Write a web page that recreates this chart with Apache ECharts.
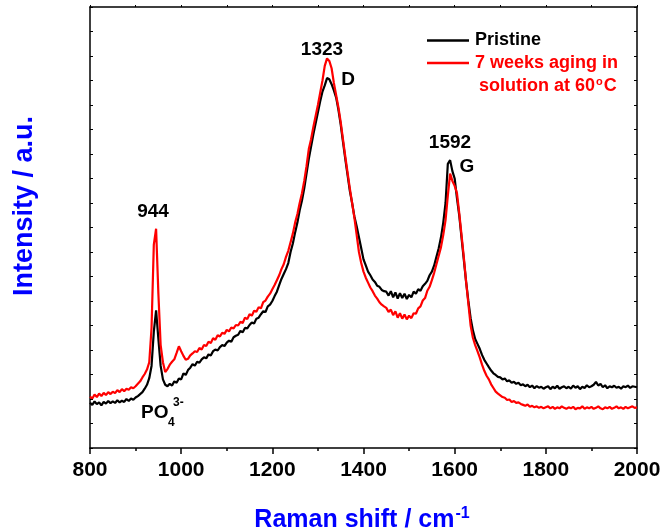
<!DOCTYPE html>
<html><head><meta charset="utf-8">
<script src="https://cdn.jsdelivr.net/npm/echarts@6/dist/echarts.min.js"></script>
<style>html,body{margin:0;padding:0;background:#fff}#c{width:664px;height:531px}</style>
</head><body><div id="c"></div>
<script>
const ramanShift = [
800,805,810,815,820,825,830,835,840,845,850,855,860,865,870,875,880,885,890,895,
900,905,910,915,920,925,930,935,940,945,950,955,960,965,970,975,980,985,990,995,
1000,1005,1010,1015,1020,1025,1030,1035,1040,1045,1050,1055,1060,1065,1070,1075,1080,1085,1090,1095,
1100,1105,1110,1115,1120,1125,1130,1135,1140,1145,1150,1155,1160,1165,1170,1175,1180,1185,1190,1195,
1200,1205,1210,1215,1220,1225,1230,1235,1240,1245,1250,1255,1260,1265,1270,1275,1280,1285,1290,1295,
1300,1305,1310,1315,1320,1325,1330,1335,1340,1345,1350,1355,1360,1365,1370,1375,1380,1385,1390,1395,
1400,1405,1410,1415,1420,1425,1430,1435,1440,1445,1450,1455,1460,1465,1470,1475,1480,1485,1490,1495,
1500,1505,1510,1515,1520,1525,1530,1535,1540,1545,1550,1555,1560,1565,1570,1575,1580,1585,1590,1595,
1600,1605,1610,1615,1620,1625,1630,1635,1640,1645,1650,1655,1660,1665,1670,1675,1680,1685,1690,1695,
1700,1705,1710,1715,1720,1725,1730,1735,1740,1745,1750,1755,1760,1765,1770,1775,1780,1785,1790,1795,
1800,1805,1810,1815,1820,1825,1830,1835,1840,1845,1850,1855,1860,1865,1870,1875,1880,1885,1890,1895,
1900,1905,1910,1915,1920,1925,1930,1935,1940,1945,1950,1955,1960,1965,1970,1975,1980,1985,1990,1995,
2000];

const pristine = [
1.85,1.76,1.90,1.79,1.86,1.74,1.88,1.81,1.92,1.83,
1.90,1.84,1.95,1.86,1.93,1.88,2.00,1.92,2.02,1.97,
2.06,2.12,2.20,2.28,2.42,2.58,2.85,3.35,4.75,5.62,
4.45,3.35,2.80,2.58,2.52,2.62,2.55,2.72,2.66,2.84,
2.80,3.05,2.98,3.18,3.28,3.42,3.36,3.52,3.48,3.62,
3.70,3.66,3.82,3.78,3.95,4.02,3.98,4.12,4.20,4.16,
4.30,4.38,4.34,4.52,4.58,4.62,4.78,4.72,4.90,4.88,
5.02,5.12,5.08,5.28,5.32,5.46,5.58,5.55,5.78,5.85,
6.00,6.20,6.38,6.65,6.90,7.10,7.30,7.55,8.00,8.35,
8.80,9.20,9.70,10.10,10.60,11.20,11.80,12.30,12.80,13.25,
13.70,14.15,14.55,14.80,15.10,15.05,14.85,14.60,14.30,13.80,
13.20,12.50,11.80,11.15,10.50,10.00,9.45,9.05,8.60,8.15,
7.70,7.45,7.20,7.05,6.88,6.78,6.62,6.58,6.45,6.40,
6.38,6.22,6.40,6.15,6.35,6.10,6.32,6.12,6.30,6.08,
6.25,6.15,6.38,6.30,6.48,6.42,6.60,6.70,6.82,7.05,
7.20,7.45,7.80,8.15,8.60,9.20,10.00,11.60,11.75,11.30,
11.00,10.20,9.50,8.60,7.70,6.80,6.00,5.30,4.80,4.45,
4.25,4.05,3.80,3.60,3.45,3.30,3.16,3.05,2.98,2.90,
2.88,2.80,2.84,2.72,2.76,2.66,2.70,2.62,2.66,2.56,
2.60,2.52,2.58,2.48,2.55,2.44,2.53,2.46,2.50,2.42,
2.48,2.52,2.40,2.50,2.44,2.54,2.42,2.48,2.52,2.44,
2.50,2.42,2.55,2.46,2.52,2.40,2.50,2.45,2.56,2.48,
2.52,2.58,2.70,2.55,2.62,2.48,2.56,2.44,2.52,2.48,
2.54,2.46,2.50,2.42,2.52,2.48,2.55,2.45,2.52,2.50,
2.48];

const aged = [
2.10,2.02,2.18,2.08,2.22,2.12,2.25,2.16,2.28,2.20,
2.30,2.24,2.36,2.28,2.40,2.32,2.42,2.38,2.48,2.44,
2.52,2.62,2.72,2.88,3.02,3.20,3.50,4.90,8.30,8.95,
6.30,4.20,3.50,3.10,3.22,3.40,3.52,3.62,3.88,4.15,
3.95,3.76,3.60,3.64,3.78,3.86,3.95,3.92,4.08,4.02,
4.20,4.16,4.34,4.28,4.48,4.42,4.60,4.55,4.70,4.66,
4.82,4.76,4.92,4.88,5.02,5.00,5.15,5.10,5.32,5.26,
5.46,5.40,5.60,5.56,5.75,5.70,5.95,6.02,6.18,6.30,
6.48,6.65,6.85,7.05,7.30,7.50,7.80,8.05,8.40,8.75,
9.20,9.55,10.00,10.40,10.90,11.50,12.20,12.60,13.10,13.55,
14.00,14.50,15.00,15.60,15.90,15.80,15.50,14.90,14.40,13.90,
13.30,12.60,11.90,11.25,10.60,10.00,9.40,8.70,8.00,7.55,
7.20,6.95,6.75,6.55,6.40,6.22,6.10,5.95,5.85,5.78,
5.72,5.55,5.65,5.42,5.58,5.32,5.50,5.28,5.45,5.25,
5.40,5.30,5.50,5.48,5.70,5.78,6.02,6.12,6.42,6.58,
6.85,7.15,7.50,7.85,8.20,8.70,9.30,10.30,11.20,10.90,
10.70,10.40,9.60,8.70,7.80,6.80,5.90,5.00,4.50,4.20,
3.95,3.70,3.40,3.15,2.95,2.80,2.60,2.45,2.30,2.22,
2.15,2.08,2.05,1.96,1.98,1.88,1.92,1.84,1.86,1.80,
1.76,1.72,1.78,1.68,1.72,1.66,1.70,1.64,1.68,1.62,
1.66,1.70,1.62,1.68,1.60,1.66,1.62,1.70,1.64,1.60,
1.66,1.62,1.68,1.58,1.64,1.62,1.70,1.60,1.66,1.62,
1.68,1.60,1.64,1.70,1.62,1.58,1.66,1.62,1.68,1.60,
1.64,1.70,1.62,1.66,1.60,1.68,1.62,1.66,1.70,1.64,
1.66];

const xTickLabels = ['800','1000','1200','1400','1600','1800','2000'];
const seriesNames = ['Pristine', '7 weeks aging in'];

const FONT = '"Liberation Sans", Arial, sans-serif';
const chart = echarts.init(document.getElementById('c'), null, {renderer:'canvas'});
const axisBase = {
  axisLine:{show:true, onZero:false, lineStyle:{color:'#000', width:1.5}},
  splitLine:{show:false}
};
chart.setOption({
  animation:false,
  backgroundColor:'#fff',
  grid:{left:90, right:27, top:7, bottom:83},
  xAxis:[
    Object.assign({}, axisBase, {type:'value', position:'bottom', min:800, max:2000, interval:200,
      axisTick:{show:true, inside:false, length:6, lineStyle:{color:'#000', width:1.5}},
      minorTick:{show:true, splitNumber:2, length:3, lineStyle:{color:'#000', width:1.5}},
      axisLabel:{show:true, margin:12, color:'#000', fontSize:21, fontWeight:'bold', fontFamily:FONT,
        formatter:(v)=>{const s=String(v); return xTickLabels.indexOf(s)>=0?s:'';}}
    }),
    Object.assign({}, axisBase, {type:'value', position:'top', min:800, max:2000, interval:200,
      axisTick:{show:true, inside:false, length:2, lineStyle:{color:'#000', width:1}},
      minorTick:{show:true, splitNumber:2, length:2, lineStyle:{color:'#000', width:1}},
      axisLabel:{show:false}
    })
  ],
  yAxis:[
    Object.assign({}, axisBase, {type:'value', position:'left', min:0, max:18, interval:1,
      axisTick:{show:true, inside:true, length:3, lineStyle:{color:'#000', width:1}},
      axisLabel:{show:false}
    }),
    Object.assign({}, axisBase, {type:'value', position:'right', min:0, max:18, interval:1,
      axisTick:{show:true, inside:true, length:3, lineStyle:{color:'#000', width:1}},
      axisLabel:{show:false}
    })
  ],
  series:[
    {name:seriesNames[0], type:'line', xAxisIndex:0, yAxisIndex:0, showSymbol:false, silent:true,
     lineStyle:{color:'#000', width:2.2}, itemStyle:{color:'#000'},
     data: ramanShift.map((x,i)=>[x, pristine[i]])},
    {name:seriesNames[1], type:'line', xAxisIndex:0, yAxisIndex:0, showSymbol:false, silent:true,
     lineStyle:{color:'#ff0000', width:2.2}, itemStyle:{color:'#ff0000'},
     data: ramanShift.map((x,i)=>[x, aged[i]])}
  ],
  graphic:[
    // legend
    {type:'line', shape:{x1:427, y1:40.5, x2:469, y2:40.5}, style:{stroke:'#000', lineWidth:2.5}},
    {type:'line', shape:{x1:427, y1:63, x2:469, y2:63}, style:{stroke:'#ff0000', lineWidth:2.5}},
    {type:'text', left:475, top:31, style:{text:'Pristine', fill:'#000', font:'bold 18px '+FONT}},
    {type:'text', left:475, top:54, style:{text:'7 weeks aging in', fill:'#ff0000', font:'bold 18px '+FONT}},
    {type:'text', left:479, top:76, style:{
      text:'solution at 60{sup|o}C', fill:'#ff0000', font:'bold 18px '+FONT,
      rich:{sup:{fill:'#ff0000', font:'bold 11px '+FONT, verticalAlign:'top', padding:[0,1,9,1]}}}},
    // peak annotations
    {type:'text', x:322, y:50, style:{text:'1323', fill:'#000', font:'bold 19px '+FONT, align:'center', verticalAlign:'middle'}},
    {type:'text', x:348, y:80, style:{text:'D', fill:'#000', font:'bold 19px '+FONT, align:'center', verticalAlign:'middle'}},
    {type:'text', x:450, y:143, style:{text:'1592', fill:'#000', font:'bold 19px '+FONT, align:'center', verticalAlign:'middle'}},
    {type:'text', x:467, y:167, style:{text:'G', fill:'#000', font:'bold 19px '+FONT, align:'center', verticalAlign:'middle'}},
    {type:'text', x:153, y:212, style:{text:'944', fill:'#000', font:'bold 19px '+FONT, align:'center', verticalAlign:'middle'}},
    {type:'text', x:141, y:413, style:{text:'PO', fill:'#000', font:'bold 19px '+FONT, align:'left', verticalAlign:'middle'}},
    {type:'text', x:168, y:423, style:{text:'4', fill:'#000', font:'bold 12px '+FONT, align:'left', verticalAlign:'middle'}},
    {type:'text', x:173, y:403, style:{text:'3-', fill:'#000', font:'bold 12px '+FONT, align:'left', verticalAlign:'middle'}},
    // axis titles
    {type:'text', x:362, y:520, style:{
      text:'Raman shift / cm{sup|-1}', fill:'#0000ff', font:'bold 25px '+FONT, align:'center', verticalAlign:'middle',
      rich:{sup:{fill:'#0000ff', font:'bold 16px '+FONT, verticalAlign:'top', padding:[0,0,12,1]}}}},
    {type:'text', x:25, y:206, rotation:Math.PI/2, style:{
      text:'Intensity / a.u.', fill:'#0000ff', font:'bold 27px '+FONT, align:'center', verticalAlign:'middle'}}
  ]
});
</script></body></html>
